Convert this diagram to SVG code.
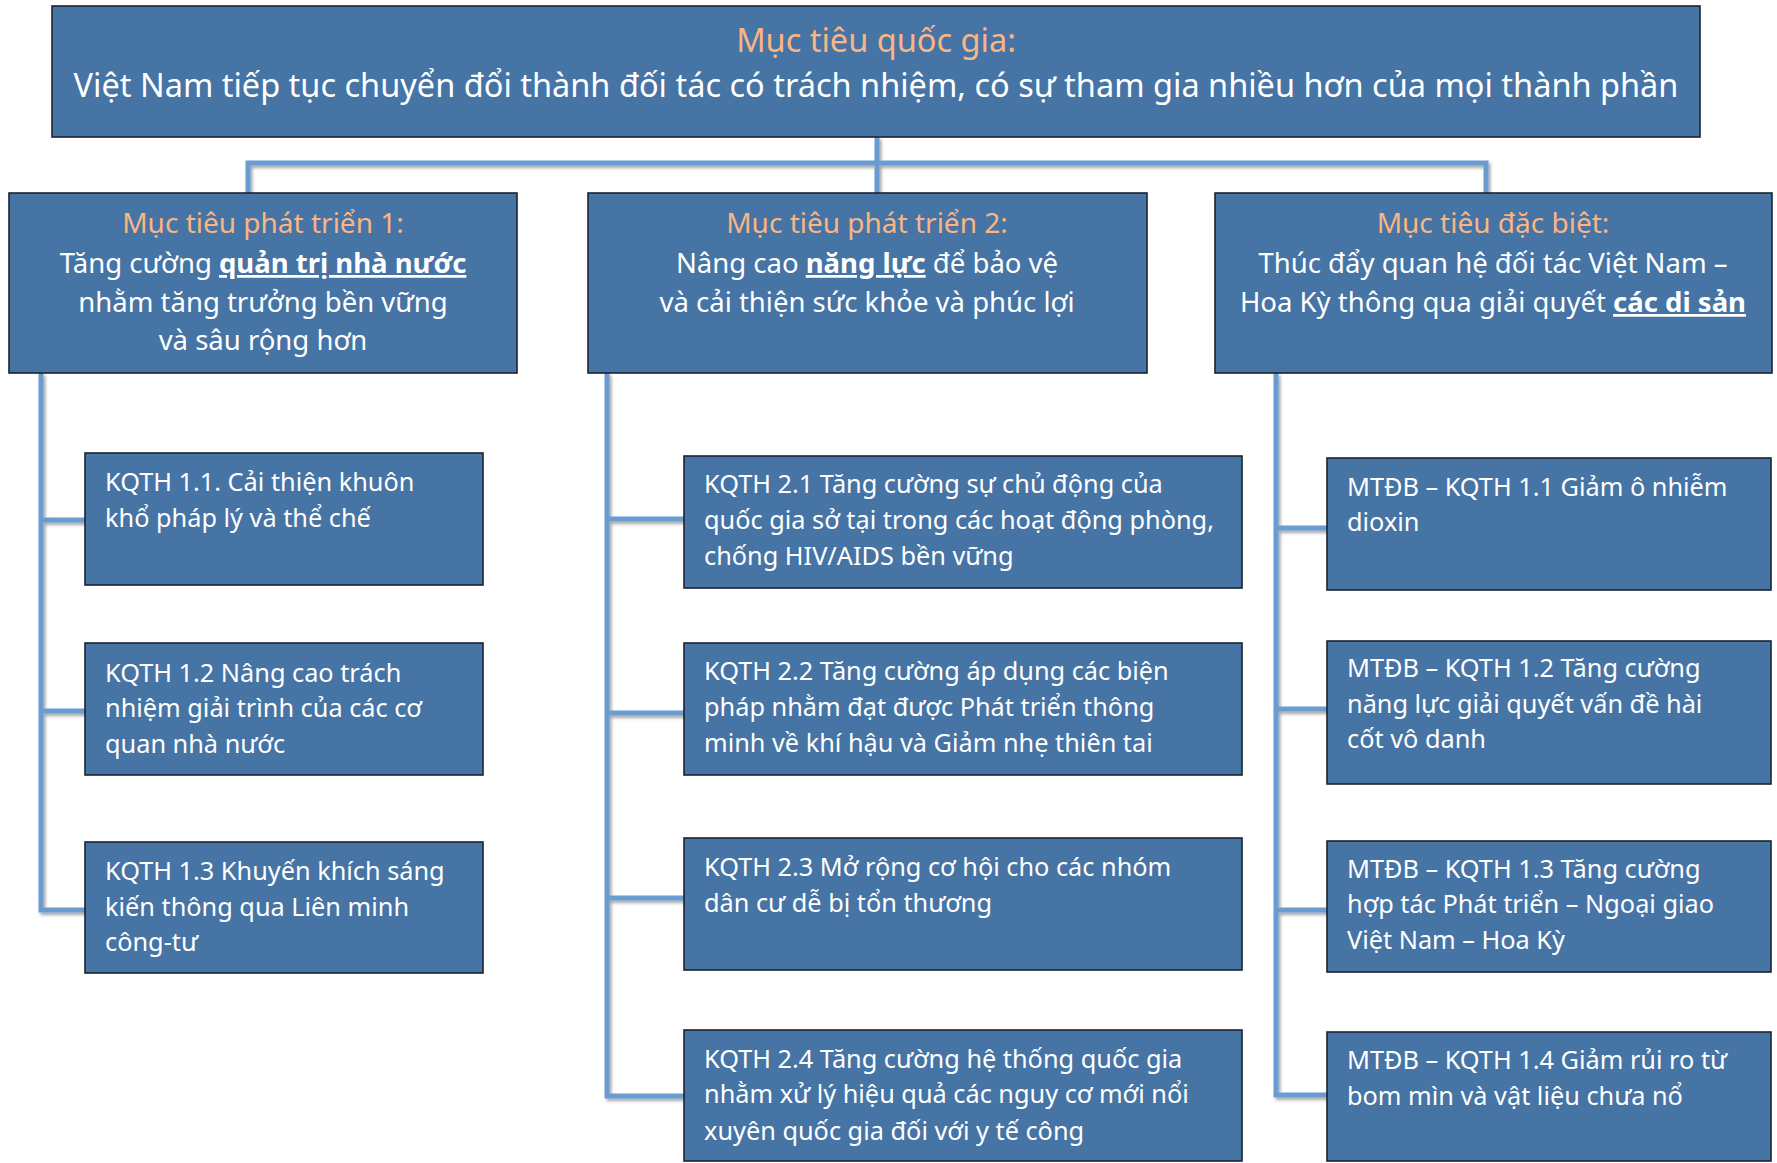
<svg xmlns="http://www.w3.org/2000/svg" width="1777" height="1163" viewBox="0 0 1777 1163">
<defs>
<style>
.box{fill:#4674a5;stroke:#1c2430;stroke-width:1.6}
.t{font-family:"Noto Sans","Open Sans","DejaVu Sans",sans-serif;fill:#ffffff}
.top{font-size:32.5px;text-anchor:middle}
.l2{font-size:27.5px;text-anchor:middle}
.l2h{font-size:28px}
.l3{font-size:25.3px}
.hd{fill:#f9b583}
.b{font-weight:bold;text-decoration:underline}
.cn{fill:none;stroke:#6a9bd1;stroke-width:5;stroke-linejoin:miter}
</style>
<filter id="sh" x="-5%" y="-5%" width="110%" height="110%">
<feDropShadow dx="2" dy="2.5" stdDeviation="1.5" flood-color="#000" flood-opacity="0.35"/>
</filter>
</defs>
<rect width="1777" height="1163" fill="#ffffff"/>

<g id="connectors" filter="url(#sh)">
<path class="cn" d="M877,137 V193"/>
<path class="cn" d="M248,193 V163 H1486 V193"/>
<path class="cn" d="M41,373 V910 H85 M41,520 H85 M41,711 H85"/>
<path class="cn" d="M607,373 V1096 H684 M607,519 H684 M607,713 H684 M607,898 H684"/>
<path class="cn" d="M1276,373 V1095 H1327 M1276,528 H1327 M1276,709 H1327 M1276,910 H1327"/>
</g>

<g id="national-goal">
<rect class="box" x="52" y="6" width="1648" height="131"/>
<text class="t top hd" x="876" y="52">Mục tiêu quốc gia:</text>
<text class="t top" x="876" y="97">Việt Nam tiếp tục chuyển đổi thành đối tác có trách nhiệm, có sự tham gia nhiều hơn của mọi thành phần</text>
</g>

<g id="dev-goal-1">
<rect class="box" x="9" y="193" width="508" height="180"/>
<text class="t l2 l2h hd" x="263" y="233">Mục tiêu phát triển 1:</text>
<text class="t l2" x="263" y="273">Tăng cường <tspan class="b">quản trị nhà nước</tspan></text>
<text class="t l2" x="263" y="312">nhằm tăng trưởng bền vững</text>
<text class="t l2" x="263" y="350">và sâu rộng hơn</text>
</g>

<g id="dev-goal-2">
<rect class="box" x="588" y="193" width="559" height="180"/>
<text class="t l2 l2h hd" x="867" y="233">Mục tiêu phát triển 2:</text>
<text class="t l2" x="867" y="273">Nâng cao <tspan class="b">năng lực</tspan> để bảo vệ</text>
<text class="t l2" x="867" y="312">và cải thiện sức khỏe và phúc lợi</text>
</g>

<g id="special-goal">
<rect class="box" x="1215" y="193" width="557" height="180"/>
<text class="t l2 l2h hd" x="1493" y="233">Mục tiêu đặc biệt:</text>
<text class="t l2" x="1493" y="273">Thúc đẩy quan hệ đối tác Việt Nam –</text>
<text class="t l2" x="1493" y="312">Hoa Kỳ thông qua giải quyết <tspan class="b">các di sản</tspan></text>
</g>

<g id="kqth-1-1">
<rect class="box" x="85" y="453" width="398" height="132"/>
<text class="t l3" x="105" y="491">KQTH 1.1. Cải thiện khuôn</text>
<text class="t l3" x="105" y="527">khổ pháp lý và thể chế</text>
</g>
<g id="kqth-1-2">
<rect class="box" x="85" y="643" width="398" height="132"/>
<text class="t l3" x="105" y="682">KQTH 1.2 Nâng cao trách</text>
<text class="t l3" x="105" y="717">nhiệm giải trình của các cơ</text>
<text class="t l3" x="105" y="753">quan nhà nước</text>
</g>
<g id="kqth-1-3">
<rect class="box" x="85" y="842" width="398" height="131"/>
<text class="t l3" x="105" y="880">KQTH 1.3 Khuyến khích sáng</text>
<text class="t l3" x="105" y="916">kiến thông qua Liên minh</text>
<text class="t l3" x="105" y="951">công-tư</text>
</g>

<g id="kqth-2-1">
<rect class="box" x="684" y="456" width="558" height="132"/>
<text class="t l3" x="704" y="493">KQTH 2.1 Tăng cường sự chủ động của</text>
<text class="t l3" x="704" y="529">quốc gia sở tại trong các hoạt động phòng,</text>
<text class="t l3" x="704" y="565">chống HIV/AIDS bền vững</text>
</g>
<g id="kqth-2-2">
<rect class="box" x="684" y="643" width="558" height="132"/>
<text class="t l3" x="704" y="680">KQTH 2.2 Tăng cường áp dụng các biện</text>
<text class="t l3" x="704" y="716">pháp nhằm đạt được Phát triển thông</text>
<text class="t l3" x="704" y="752">minh về khí hậu và Giảm nhẹ thiên tai</text>
</g>
<g id="kqth-2-3">
<rect class="box" x="684" y="838" width="558" height="132"/>
<text class="t l3" x="704" y="876">KQTH 2.3 Mở rộng cơ hội cho các nhóm</text>
<text class="t l3" x="704" y="912">dân cư dễ bị tổn thương</text>
</g>
<g id="kqth-2-4">
<rect class="box" x="684" y="1030" width="558" height="131"/>
<text class="t l3" x="704" y="1068">KQTH 2.4 Tăng cường hệ thống quốc gia</text>
<text class="t l3" x="704" y="1103">nhằm xử lý hiệu quả các nguy cơ mới nổi</text>
<text class="t l3" x="704" y="1140">xuyên quốc gia đối với y tế công</text>
</g>

<g id="mtdb-1-1">
<rect class="box" x="1327" y="458" width="444" height="132"/>
<text class="t l3" x="1347" y="496">MTĐB – KQTH 1.1 Giảm ô nhiễm</text>
<text class="t l3" x="1347" y="531">dioxin</text>
</g>
<g id="mtdb-1-2">
<rect class="box" x="1327" y="641" width="444" height="143"/>
<text class="t l3" x="1347" y="677">MTĐB – KQTH 1.2 Tăng cường</text>
<text class="t l3" x="1347" y="713">năng lực giải quyết vấn đề hài</text>
<text class="t l3" x="1347" y="748">cốt vô danh</text>
</g>
<g id="mtdb-1-3">
<rect class="box" x="1327" y="841" width="444" height="131"/>
<text class="t l3" x="1347" y="878">MTĐB – KQTH 1.3 Tăng cường</text>
<text class="t l3" x="1347" y="913">hợp tác Phát triển – Ngoại giao</text>
<text class="t l3" x="1347" y="949">Việt Nam – Hoa Kỳ</text>
</g>
<g id="mtdb-1-4">
<rect class="box" x="1327" y="1032" width="444" height="129"/>
<text class="t l3" x="1347" y="1069">MTĐB – KQTH 1.4 Giảm rủi ro từ</text>
<text class="t l3" x="1347" y="1105">bom mìn và vật liệu chưa nổ</text>
</g>
</svg>
